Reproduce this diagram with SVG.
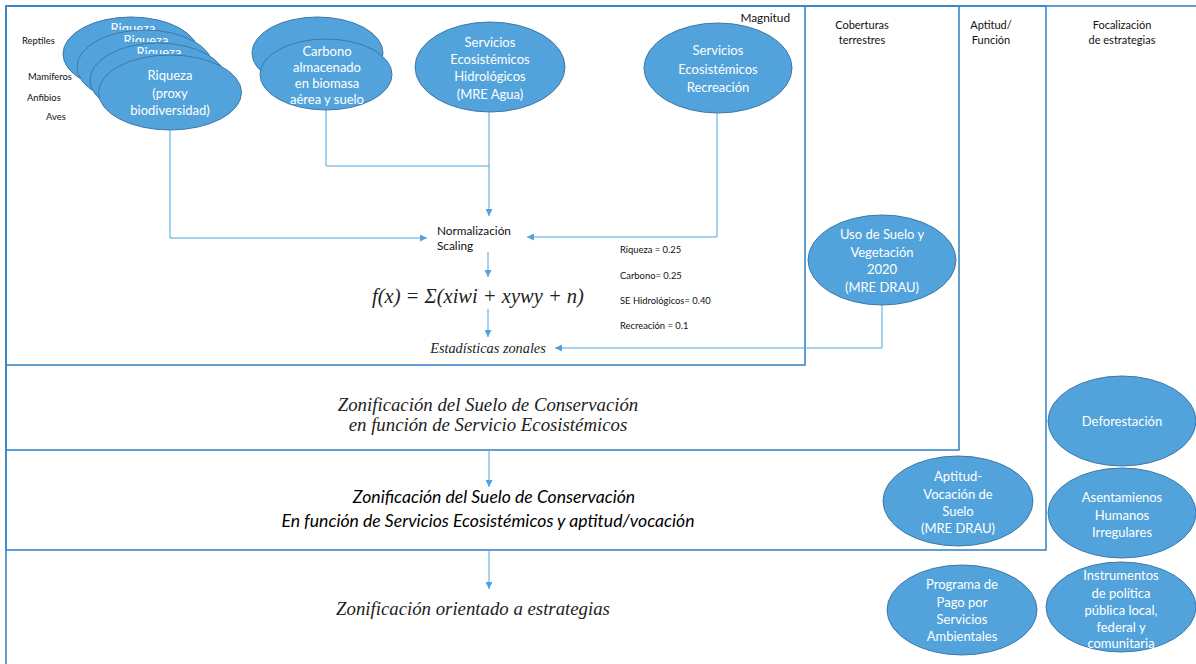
<svg xmlns="http://www.w3.org/2000/svg" width="1196" height="664" viewBox="0 0 1196 664">
<defs>
<marker id="ah" viewBox="0 0 10 10" refX="10" refY="5" markerWidth="7" markerHeight="7" markerUnits="userSpaceOnUse" orient="auto"><path d="M0,0 L10,5 L0,10 z" fill="#4FA3E0"/></marker>
<clipPath id="c1"><rect x="60" y="15" width="150" height="15"/></clipPath>
<clipPath id="c2"><rect x="70" y="27" width="150" height="15"/></clipPath>
<clipPath id="c3"><rect x="85" y="40" width="150" height="14"/></clipPath>
<style>
.box{fill:none;stroke:#3A86C6;stroke-width:1.6}
.el{fill:#52A3DB;stroke:#3F77A8;stroke-width:1}
.wt{font-family:Lato,"Liberation Sans",sans-serif;font-size:13px;fill:#fff;text-anchor:middle}
.lb{font-family:Lato,"Liberation Sans",sans-serif;font-size:11.8px;fill:#111}
.sm{font-family:Lato,"Liberation Sans",sans-serif;font-size:9.4px;fill:#111}
.hd{font-family:Lato,"Liberation Sans",sans-serif;font-size:11px;fill:#111;text-anchor:middle}
.si{font-family:"Liberation Serif",serif;font-style:italic;fill:#222;text-anchor:middle}
.ci{font-family:Lato,"Liberation Sans",sans-serif;font-style:italic;font-size:17.6px;fill:#000;text-anchor:middle}
.cn{fill:none;stroke:#4FA3E0;stroke-width:1}
</style>
</defs>
<rect width="1196" height="664" fill="#fff"/>
<g id="frames">
<rect class="box" x="6" y="6" width="1200" height="700"/>
<rect class="box" x="6" y="6" width="1040" height="544"/>
<rect class="box" x="6" y="6" width="953" height="444"/>
<rect class="box" x="6" y="6" width="799" height="359"/>
</g>
<g id="headers">
<text class="lb" x="790" y="22" text-anchor="end" font-size="11.5">Magnitud</text>
<text class="hd" x="862" y="29">Coberturas</text>
<text class="hd" x="862" y="44">terrestres</text>
<text class="hd" x="991" y="29">Aptitud/</text>
<text class="hd" x="991" y="44">Función</text>
<text class="hd" x="1122" y="29">Focalización</text>
<text class="hd" x="1122" y="44">de estrategias</text>
</g>
<g id="species">
<text class="sm" x="22" y="44">Reptiles</text>
<text class="sm" x="28" y="80">Mamíferos</text>
<text class="sm" x="27" y="101">Anfibios</text>
<text class="sm" x="46" y="120">Aves</text>
</g>
<g id="riqueza">
<ellipse class="el" cx="131" cy="54" rx="68" ry="37"/>
<text class="wt" x="133" y="33" clip-path="url(#c1)">Riqueza</text>
<ellipse class="el" cx="145" cy="67" rx="68" ry="37"/>
<text class="wt" x="146" y="45" clip-path="url(#c2)">Riqueza</text>
<ellipse class="el" cx="158" cy="80" rx="68" ry="37"/>
<text class="wt" x="159" y="57" clip-path="url(#c3)">Riqueza</text>
<ellipse class="el" cx="170" cy="92.5" rx="71.5" ry="37.5"/>
<text class="wt" x="170" y="80">Riqueza</text>
<text class="wt" x="170" y="98">(proxy</text>
<text class="wt" x="170" y="115">biodiversidad)</text>
</g>
<g id="carbono">
<ellipse class="el" cx="317.5" cy="53" rx="65.5" ry="36"/>
<ellipse class="el" cx="326" cy="74.5" rx="66" ry="35.5"/>
<text class="wt" x="327" y="56">Carbono</text>
<text class="wt" x="327" y="72">almacenado</text>
<text class="wt" x="327" y="88">en biomasa</text>
<text class="wt" x="327" y="104">aérea y suelo</text>
</g>
<g id="hidro">
<ellipse class="el" cx="490" cy="67" rx="75" ry="45"/>
<text class="wt" x="490" y="47">Servicios</text>
<text class="wt" x="490" y="64">Ecosistémicos</text>
<text class="wt" x="490" y="81">Hidrológicos</text>
<text class="wt" x="490" y="99">(MRE Agua)</text>
</g>
<g id="recreacion">
<ellipse class="el" cx="718" cy="68" rx="74" ry="45"/>
<text class="wt" x="718" y="55">Servicios</text>
<text class="wt" x="718" y="74">Ecosistémicos</text>
<text class="wt" x="718" y="92">Recreación</text>
</g>
<g id="usosuelo">
<ellipse class="el" cx="882" cy="260" rx="74" ry="45"/>
<text class="wt" x="882" y="239">Uso de Suelo y</text>
<text class="wt" x="882" y="257">Vegetación</text>
<text class="wt" x="882" y="274">2020</text>
<text class="wt" x="882" y="292">(MRE DRAU)</text>
</g>
<g id="aptitud">
<ellipse class="el" cx="958" cy="501" rx="75" ry="45"/>
<text class="wt" x="958" y="481">Aptitud-</text>
<text class="wt" x="958" y="499">Vocación de</text>
<text class="wt" x="958" y="516">Suelo</text>
<text class="wt" x="958" y="533">(MRE DRAU)</text>
</g>
<g id="deforestacion">
<ellipse class="el" cx="1122" cy="421" rx="74" ry="45"/>
<text class="wt" x="1122" y="426">Deforestación</text>
</g>
<g id="asentamientos">
<ellipse class="el" cx="1122" cy="513" rx="74" ry="45"/>
<text class="wt" x="1122" y="502">Asentamienos</text>
<text class="wt" x="1122" y="520">Humanos</text>
<text class="wt" x="1122" y="537">Irregulares</text>
</g>
<g id="programa">
<ellipse class="el" cx="962" cy="610" rx="75" ry="45"/>
<text class="wt" x="962" y="589">Programa de</text>
<text class="wt" x="962" y="607">Pago por</text>
<text class="wt" x="962" y="624">Servicios</text>
<text class="wt" x="962" y="641">Ambientales</text>
</g>
<g id="instrumentos">
<ellipse class="el" cx="1121" cy="607" rx="75" ry="45"/>
<text class="wt" x="1121" y="580">Instrumentos</text>
<text class="wt" x="1121" y="598">de política</text>
<text class="wt" x="1121" y="615">pública local,</text>
<text class="wt" x="1121" y="632">federal y</text>
<text class="wt" x="1121" y="648">comunitaria</text>
</g>
<g id="process">
<text class="lb" x="437" y="235">Normalización</text>
<text class="lb" x="437" y="250">Scaling</text>
<text class="si" x="478" y="303" font-size="20.5">f(x) = Σ(xiwi  + xywy  +  n)</text>
<text class="si" x="488" y="353" font-size="14.3">Estadísticas zonales</text>
<text class="sm" x="620" y="253">Riqueza = 0.25</text>
<text class="sm" x="620" y="279">Carbono= 0.25</text>
<text class="sm" x="620" y="304">SE Hidrológicos= 0.40</text>
<text class="sm" x="620" y="329">Recreación = 0.1</text>
</g>
<g id="zones">
<text class="si" x="488" y="411" font-size="18.8">Zonificación del Suelo de Conservación</text>
<text class="si" x="488" y="431" font-size="18.8">en función de Servicio Ecosistémicos</text>
<text class="ci" x="494" y="503">Zonificación del Suelo de Conservación</text>
<text class="ci" x="488" y="527">En función de Servicios Ecosistémicos y aptitud/vocación</text>
<text class="si" x="473" y="615" font-size="18.8">Zonificación orientado a estrategias</text>
</g>
<g id="connectors">
<path class="cn" d="M170,130 V238 H427" marker-end="url(#ah)"/>
<path class="cn" d="M326,110 V166 H489"/>
<path class="cn" d="M489,112 V216" marker-end="url(#ah)"/>
<path class="cn" d="M717,113 V237 H527" marker-end="url(#ah)"/>
<path class="cn" d="M488,252 V277" marker-end="url(#ah)"/>
<path class="cn" d="M488,309 V337" marker-end="url(#ah)"/>
<path class="cn" d="M882,305 V348 H555" marker-end="url(#ah)"/>
<path class="cn" d="M489,451 V487" marker-end="url(#ah)"/>
<path class="cn" d="M489,551 V589" marker-end="url(#ah)"/>
</g>
</svg>
